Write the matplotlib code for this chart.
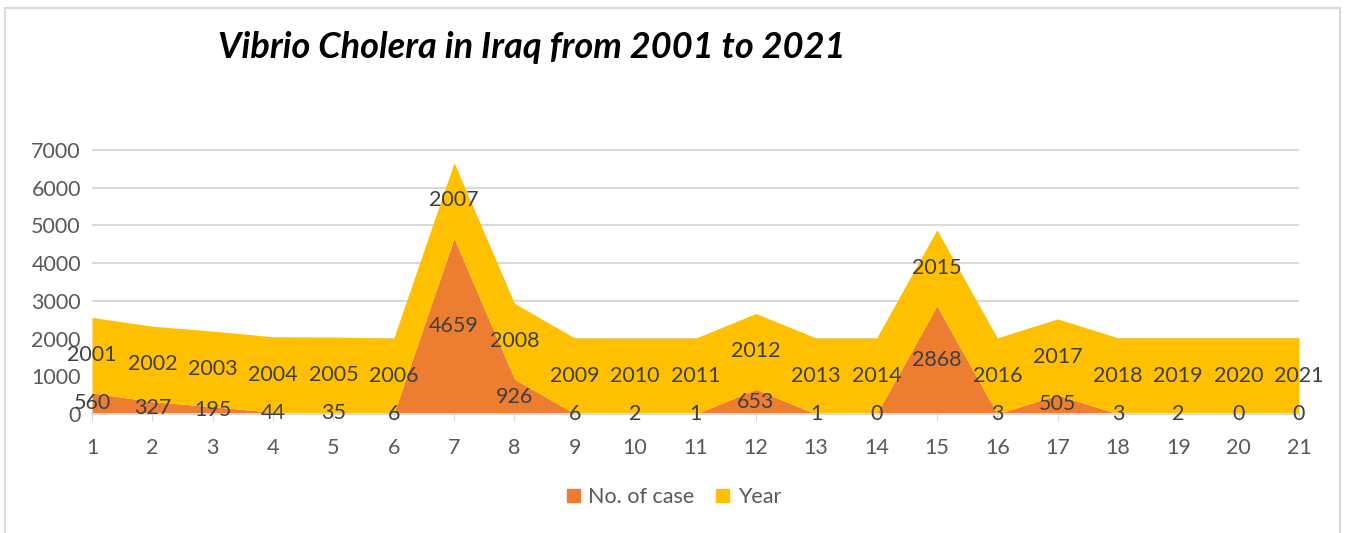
import numpy as np
import matplotlib.pyplot as plt
from matplotlib.patches import Patch

positions = list(range(1, 22))
years = [2001, 2002, 2003, 2004, 2005, 2006, 2007, 2008, 2009, 2010, 2011,
         2012, 2013, 2014, 2015, 2016, 2017, 2018, 2019, 2020, 2021]
cases = [560, 327, 195, 44, 35, 6, 4659, 926, 6, 2, 1,
         653, 1, 0, 2868, 3, 505, 3, 2, 0, 0]

plt.rcParams['font.family'] = ['Lato', 'DejaVu Sans']

fig = plt.figure(figsize=(13.48, 5.33), dpi=100)
ax = fig.add_axes([92 / 1348, 1 - 414 / 533, (1299 - 92) / 1348, (414 - 150) / 533 * 7400 / 7000])

x = np.array(positions)
c = np.array(cases)
y = np.array(years)
ax.fill_between(x, 0, c, color='#ED7D31', lw=0, zorder=2)
ax.fill_between(x, c, c + y, color='#FFC000', lw=0, zorder=2)

for xi, ci, yi in zip(x, c, y):
    ax.text(xi, ci / 2, str(ci), ha='center', va='center', fontsize=15.5, color='#404040', zorder=3)
    ax.text(xi, ci + yi / 2, str(yi), ha='center', va='center', fontsize=15.5, color='#404040', zorder=3)

ax.set_xlim(1, 21)
ax.set_ylim(0, 7400)
ax.set_yticks(range(0, 7001, 1000))
ax.set_xticks(positions)
ax.tick_params(axis='both', labelsize=15.5, labelcolor='#595959', length=0, pad=8)
ax.tick_params(axis='x', length=5, color='#D9D9D9', pad=12)
ax.grid(axis='y', color='#D9D9D9', lw=1.5, zorder=0)
for s in ['top', 'right', 'left']:
    ax.spines[s].set_visible(False)
ax.spines['bottom'].set_color('#D9D9D9')
ax.spines['bottom'].set_linewidth(1.5)
ax.set_axisbelow(True)

fig.text(532 / 1348, 1 - 47 / 533, 'Vibrio Cholera in Iraq from 2001 to 2021', ha='center', va='center',
         fontsize=26, fontweight='bold', fontstyle='italic', color='black')

handles = [Patch(color='#ED7D31', label='No. of case'), Patch(color='#FFC000', label='Year')]
fig.legend(handles=handles, loc='center', bbox_to_anchor=(674 / 1348, 1 - 497 / 533), ncol=2,
           frameon=False, fontsize=15.5, handlelength=0.6, handleheight=0.6, handletextpad=0.4,
           columnspacing=1.0, labelcolor='#595959')

# chart frame
fig.add_artist(plt.Line2D([5 / 1348, 5 / 1348], [0, 1 - 8 / 533], color='#D9D9D9', lw=1.5))
fig.add_artist(plt.Line2D([5 / 1348, 1340 / 1348], [1 - 8 / 533, 1 - 8 / 533], color='#D9D9D9', lw=1.5))
fig.add_artist(plt.Line2D([1340 / 1348, 1340 / 1348], [0, 1 - 8 / 533], color='#D9D9D9', lw=1.5))

fig.savefig('out.png', dpi=100)
